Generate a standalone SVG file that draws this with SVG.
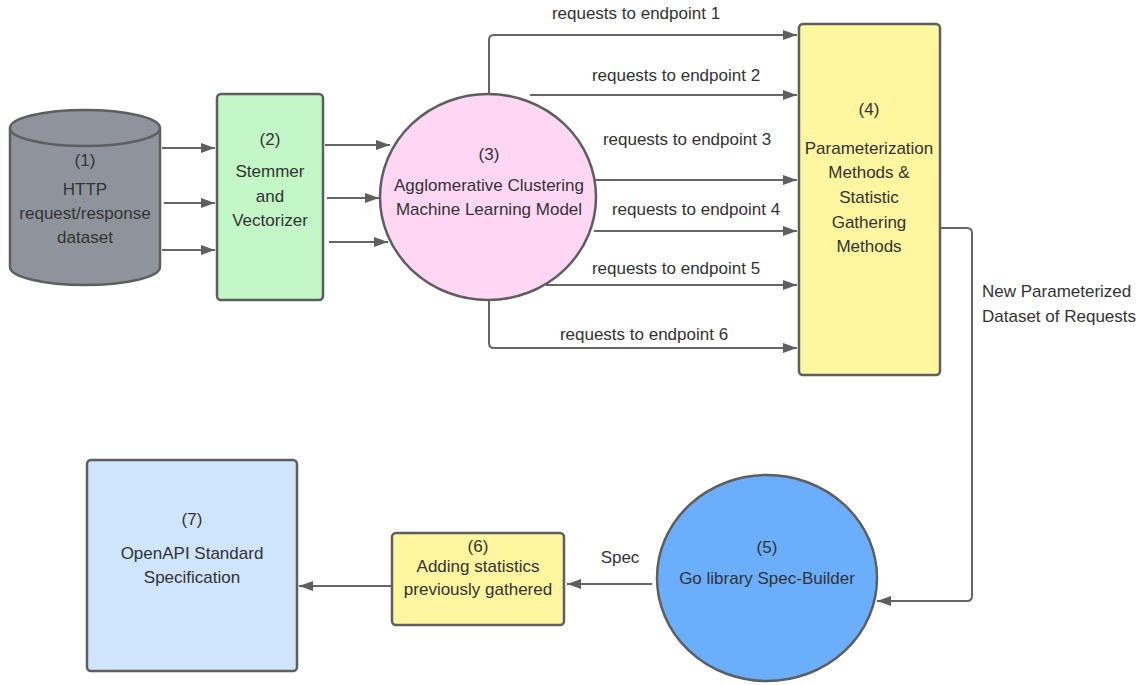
<svg xmlns="http://www.w3.org/2000/svg" width="1143" height="685" viewBox="0 0 1143 685">
<defs>
<marker id="arr" viewBox="0 0 14 10" refX="14" refY="5" markerWidth="14" markerHeight="10" markerUnits="userSpaceOnUse" orient="auto">
<path d="M0,0 L14,5 L0,10 z" fill="#5f5f5f"/>
</marker>
</defs>
<style>
text{font-family:"Liberation Sans",Arial,sans-serif;font-size:17px;fill:#333;text-anchor:middle}
.lbl{text-anchor:middle}
.lft{text-anchor:start}
.shape{stroke:#5e5e5e;stroke-width:2.5}
.conn{fill:none;stroke:#666;stroke-width:2;marker-end:url(#arr)}
.line{fill:none;stroke:#666;stroke-width:2}
</style>
<rect width="1143" height="685" fill="#fff"/>

<g id="connectors">
<path class="conn" d="M162,148 H215"/>
<path class="conn" d="M164,203 H215"/>
<path class="conn" d="M162,250 H215"/>
<path class="conn" d="M325,145 H390"/>
<path class="conn" d="M327,198 H379"/>
<path class="conn" d="M329,242 H388"/>
<path class="conn" d="M489,93 V40 Q489,35 494,35 H797"/>
<path class="conn" d="M530,95 H797"/>
<path class="conn" d="M592,180 H797"/>
<path class="conn" d="M594,231 H797"/>
<path class="conn" d="M546,285 H797"/>
<path class="conn" d="M489,300 V343 Q489,348 494,348 H797"/>
<path class="conn" d="M941,228 H967 Q972,228 972,233 V596 Q972,601 967,601 H877"/>
<path class="conn" d="M652,584 H567"/>
<path class="conn" d="M392,586 H299"/>
<text x="636" y="19">requests to endpoint 1</text>
<text x="676" y="81">requests to endpoint 2</text>
<text x="687" y="145">requests to endpoint 3</text>
<text x="696" y="215">requests to endpoint 4</text>
<text x="676" y="274">requests to endpoint 5</text>
<text x="644" y="340">requests to endpoint 6</text>
<text class="lft" x="982" y="297">New Parameterized</text>
<text class="lft" x="982" y="322">Dataset of Requests</text>
<text x="620" y="563">Spec</text>
</g>

<g id="node1">
<path class="shape" fill="#8f939c" d="M10,128 V267 A75,18 0 0 0 160,267 V128 A75,18 0 0 0 10,128 A75,18 0 0 0 160,128"/>
<text x="85" y="166">(1)</text>
<text x="85" y="195">HTTP</text>
<text x="85" y="219">request/response</text>
<text x="85" y="243">dataset</text>
</g>

<g id="node2">
<rect class="shape" x="217" y="94" width="106" height="206" rx="4" fill="#c3f7c8"/>
<text x="270" y="145">(2)</text>
<text x="270" y="177">Stemmer</text>
<text x="270" y="202">and</text>
<text x="270" y="226">Vectorizer</text>
</g>

<g id="node3">
<ellipse class="shape" cx="488" cy="197" rx="108" ry="103" fill="#ffd7f5"/>
<text x="489" y="160">(3)</text>
<text x="489" y="191">Agglomerative Clustering</text>
<text x="489" y="215">Machine Learning Model</text>
</g>

<g id="node4">
<rect class="shape" x="799" y="24" width="141" height="351" rx="4" fill="#fff69f"/>
<text x="869" y="115">(4)</text>
<text x="869" y="154">Parameterization</text>
<text x="869" y="178">Methods &amp;</text>
<text x="869" y="203">Statistic</text>
<text x="869" y="228">Gathering</text>
<text x="869" y="252">Methods</text>
</g>

<g id="node5">
<ellipse class="shape" cx="767" cy="578" rx="110" ry="103" fill="#6aaefc"/>
<text x="767" y="553">(5)</text>
<text x="767" y="584">Go library Spec-Builder</text>
</g>

<g id="node6">
<rect class="shape" x="392" y="533" width="172" height="92" rx="4" fill="#fff69f"/>
<text x="478" y="552">(6)</text>
<text x="478" y="572">Adding statistics</text>
<text x="478" y="595">previously gathered</text>
</g>

<g id="node7">
<rect class="shape" x="87" y="460" width="210" height="211" rx="4" fill="#cfe4fd"/>
<text x="192" y="525">(7)</text>
<text x="192" y="559">OpenAPI Standard</text>
<text x="192" y="583">Specification</text>
</g>
</svg>
